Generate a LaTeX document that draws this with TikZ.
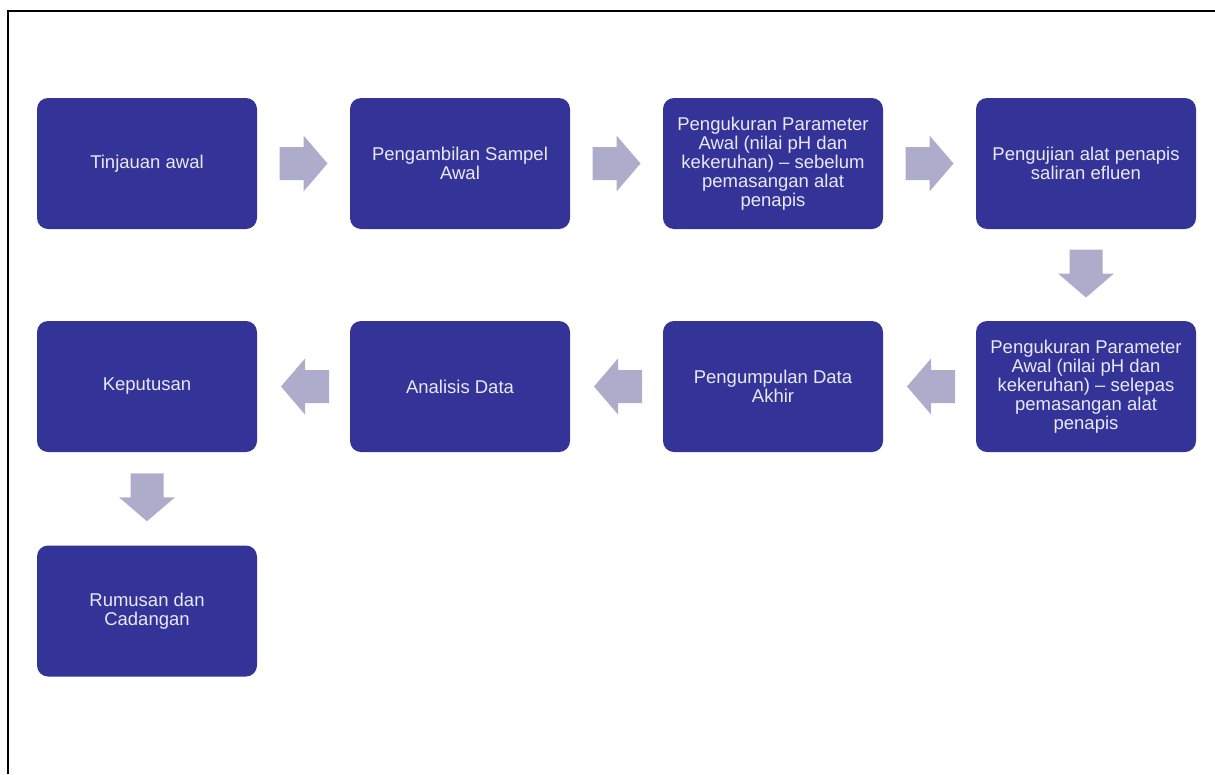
\documentclass[tikz,border=0pt]{standalone}
\usepackage{fontspec}
\setmainfont{Liberation Sans}
\usetikzlibrary{calc}
\definecolor{boxblue}{RGB}{52,52,152}
\definecolor{arrowgray}{RGB}{173,173,203}
\definecolor{boxtext}{RGB}{232,232,246}
\tikzset{
  stepbox/.style={rectangle, rounded corners=11pt, fill=boxblue, draw=none,
    minimum width=220pt, minimum height=131pt, inner sep=0pt,
    align=center, text=boxtext, font=\fontsize{18.5}{19}\selectfont},
  arrowfill/.style={fill=arrowgray, draw=none},
  framestroke/.style={draw=black, line width=2pt}
}
\newcommand{\blockarrow}[2]{%
  \fill[arrowfill, shift={(#1)}, rotate=#2]
    (-24,-16.5) -- (0,-16.5) -- (0,-28) -- (24,0) -- (0,28) -- (0,16.5) -- (-24,16.5) -- cycle;}
\begin{document}
\begin{tikzpicture}[x=1pt,y=1pt]
\useasboundingbox (0,0) rectangle (1215,-774);
\draw[framestroke] (8,-774) -- (8,-11) -- (1216,-11);

\node[stepbox] (b1) at (147,-163.5) {Tinjauan awal};
\node[stepbox] (b2) at (460,-163.5) {Pengambilan Sampel\\Awal};
\node[stepbox] (b3) at (773,-163.5) {Pengukuran Parameter\\Awal (nilai pH dan\\kekeruhan) – sebelum\\pemasangan alat\\penapis};
\node[stepbox] (b4) at (1086,-163.5) {Pengujian alat penapis\\saliran efluen};
\node[stepbox] (b5) at (1086,-386.5) {Pengukuran Parameter\\Awal (nilai pH dan\\kekeruhan) – selepas\\pemasangan alat\\penapis};
\node[stepbox] (b6) at (773,-386.5) {Pengumpulan Data\\Akhir};
\node[stepbox] (b7) at (460,-386.5) {Analisis Data};
\node[stepbox] (b8) at (147,-386.5) {Keputusan};
\node[stepbox] (b9) at (147,-611) {Rumusan dan\\Cadangan};

\coordinate (a12) at ($(b1.east)!0.5!(b2.west)$);
\coordinate (a23) at ($(b2.east)!0.5!(b3.west)$);
\coordinate (a34) at ($(b3.east)!0.5!(b4.west)$);
\coordinate (a45) at ($(b4.south)!0.5!(b5.north)+(0,1.5)$);
\coordinate (a56) at ($(b5.west)!0.5!(b6.east)+(1.5,0)$);
\coordinate (a67) at ($(b6.west)!0.5!(b7.east)+(1.5,0)$);
\coordinate (a78) at ($(b7.west)!0.5!(b8.east)+(1.5,0)$);
\coordinate (a89) at ($(b8.south)!0.5!(b9.north)+(0,1.5)$);

\blockarrow{a12}{0}
\blockarrow{a23}{0}
\blockarrow{a34}{0}
\blockarrow{a45}{-90}
\blockarrow{a56}{180}
\blockarrow{a67}{180}
\blockarrow{a78}{180}
\blockarrow{a89}{-90}
\end{tikzpicture}
\end{document}
